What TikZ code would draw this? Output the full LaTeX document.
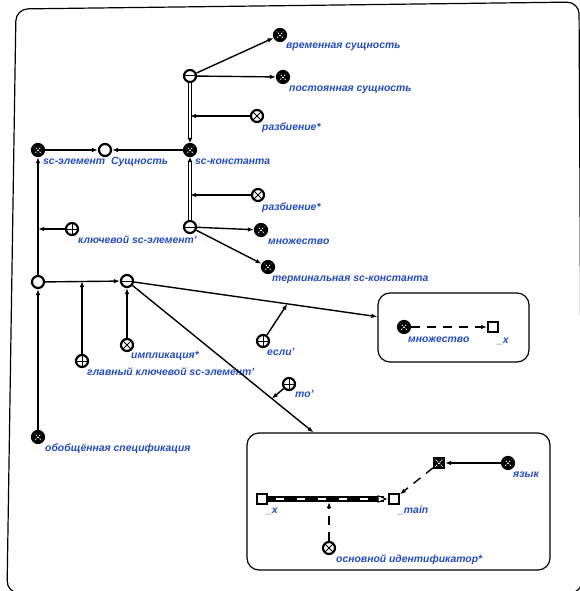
\documentclass[tikz,border=0pt]{standalone}
\usepackage{fontspec}
\setmainfont{Liberation Sans}
\usetikzlibrary{arrows.meta}

\definecolor{lblblue}{RGB}{35,75,190}

\tikzset{
  sc/.style={circle, inner sep=0pt, minimum size=12pt, line width=2.2pt, draw=black, fill=white},
  scclass/.style={sc, fill=black, path picture={
      \draw[white, line width=0.9pt, dash pattern=on 1.3pt off 1.4pt]
        (path picture bounding box.north west) -- (path picture bounding box.south east)
        (path picture bounding box.north east) -- (path picture bounding box.south west);}},
  screl/.style={sc, path picture={
      \draw[line width=1pt]
        (path picture bounding box.north west) -- (path picture bounding box.south east)
        (path picture bounding box.north east) -- (path picture bounding box.south west);}},
  scrole/.style={sc, path picture={
      \draw[line width=1pt]
        (path picture bounding box.north) -- (path picture bounding box.south)
        (path picture bounding box.west) -- (path picture bounding box.east);}},
  sctuple/.style={sc, path picture={
      \draw[line width=1pt]
        (path picture bounding box.west) -- (path picture bounding box.east);}},
  scvar/.style={rectangle, inner sep=0pt, minimum size=10pt, line width=2pt, draw=black, fill=white},
  scvarclass/.style={scvar, fill=black, path picture={
      \draw[white, line width=0.8pt, dash pattern=on 1.2pt off 1.2pt]
        (path picture bounding box.north west) -- (path picture bounding box.south east)
        (path picture bounding box.north east) -- (path picture bounding box.south west);}},
  lbl/.style={anchor=base west, inner sep=0pt, text=lblblue,
    font=\fontsize{10.4}{12}\selectfont\bfseries\itshape},
  arc/.style={-{Latex[length=6pt,width=4.5pt]}, line width=1.4pt},
  vararc/.style={arc, dash pattern=on 9pt off 7pt},
  commarc/.style={-{Latex[length=5pt,width=5pt]}, line width=1pt, double=white, double distance=2.8pt},
  contour/.style={draw, rounded corners=12pt, line width=1.2pt},
}

\begin{document}
\begin{tikzpicture}[x=1pt, y=-1pt]
\useasboundingbox (0,0) rectangle (580,591);

% outer frame
\begin{scope}
\clip (0,0) rectangle (580,591);
\draw[line width=1.2pt, rounded corners=12pt] (7,593) -- (16,9) -- (579,2) -- (582,593) -- cycle;
\end{scope}

% upper part
\node[sctuple] (tuple1) at (190,76) {};
\node[scclass] (temp) at (280,35) {};
\node[lbl] (temp-l) at (286,48.5) {временная сущность};
\node[scclass] (perm) at (283,77) {};
\node[lbl] (perm-l) at (289,92) {постоянная сущность};
\node[screl] (part1) at (257,116) {};
\node[lbl] (part1-l) at (262,131) {разбиение*};
\node[scclass] (scconst) at (190,150) {};
\node[lbl] (scconst-l) at (195,164.5) {sc-константа};
\node[sc] (entity) at (105,150) {};
\node[lbl] (entity-l) at (111,164) {Сущность};
\node[scclass] (scelem) at (38,150) {};
\node[lbl] (scelem-l) at (43,164.5) {sc-элемент};
\node[screl] (part2) at (258,195) {};
\node[lbl] (part2-l) at (262,210) {разбиение*};
\node[sctuple] (tuple2) at (190,227) {};
\node[scclass] (set) at (261,230) {};
\node[lbl] (set-l) at (268,244) {множество};
\node[scclass] (term) at (268,267) {};
\node[lbl] (term-l) at (272,281) {терминальная sc-константа};
\node[scrole] (keyelem) at (72,229) {};
\node[lbl] (keyelem-l) at (78,243) {ключевой sc-элемент'};

% lower part
\node[sc] (gen) at (38,282) {};
\node[sctuple] (tuple3) at (127,281) {};
\node[screl] (impl) at (127,345) {};
\node[lbl] (impl-l) at (131,358) {импликация*};
\node[scrole] (mainkey) at (82,361) {};
\node[lbl] (mainkey-l) at (87,375) {главный ключевой sc-элемент'};
\node[scrole] (if) at (263,341) {};
\node[lbl] (if-l) at (267,355) {если'};
\node[scrole] (then) at (289,384) {};
\node[lbl] (then-l) at (295,397) {то'};
\node[scclass] (genspec) at (38,437) {};
\node[lbl] (genspec-l) at (45,451) {обобщённая спецификация};

% contours
\node[contour, minimum width=151pt, minimum height=69pt] (box1) at (453.5,327.5) {};
\node[contour, minimum width=303pt, minimum height=137pt] (box2) at (398.5,501.5) {};

% inside box1
\node[scclass] (set2) at (404,327) {};
\node[lbl] (set2-l) at (408,342) {множество};
\node[scvar] (x1) at (493,327) {};
\node[lbl] (x1-l) at (497,343) {\_x};

% inside box2
\node[scvar] (x2) at (262,499) {};
\node[lbl] (x2-l) at (266,513) {\_x};
\node[scvar] (main) at (394,499) {};
\node[lbl] (main-l) at (398,513) {\_main};
\node[scvarclass] (mainclass) at (439,463) {};
\node[scclass] (lang) at (508,463) {};
\node[lbl] (lang-l) at (513,477) {язык};
\node[screl] (ident) at (329,548) {};
\node[lbl] (ident-l) at (336,562) {основной идентификатор*};

% points on arcs
\coordinate (p1) at (tuple1 |- part1);
\coordinate (p2) at (tuple2 |- part2);
\coordinate (p3) at (scelem |- keyelem);
\coordinate (p4) at (mainkey |- tuple3);
\path (tuple3) -- (box1) coordinate[pos=0.63] (p5);
\path (tuple3) -- (box2) coordinate[pos=0.77] (p6);
\coordinate (p7) at (ident |- x2);

% arcs
\draw[arc] (tuple1) -- (temp);
\draw[arc] (tuple1) -- (perm);
\draw[commarc] (tuple1) -- (scconst);
\draw[arc] (part1) -- (p1);
\draw[commarc] (tuple2) -- (scconst);
\draw[arc] (part2) -- (p2);
\draw[arc] (tuple2) -- (set);
\draw[arc] (tuple2) -- (term);
\draw[arc] (scconst) -- (entity);
\draw[arc] (scelem) -- (entity);
\draw[arc] (gen) -- (scelem);
\draw[arc] (keyelem) -- (p3);
\draw[arc] (gen) -- (tuple3);
\draw[arc] (mainkey) -- (p4);
\draw[arc] (impl) -- (tuple3);
\draw[arc] (genspec) -- (gen);
\draw[arc] (tuple3) -- (box1);
\draw[arc] (if) -- (p5);
\draw[arc] (tuple3) -- (box2);
\draw[arc] (then) -- (p6);

\draw[vararc] (set2) -- (x1);

\draw[line width=6.5pt, shorten >=4pt] (x2) -- (main);
\draw[white, line width=2.8pt, dash pattern=on 8pt off 13pt, shorten <=8pt, shorten >=6pt] (x2) -- (main);
\draw[fill=white, line width=1pt] ([xshift=-2pt]main.west) -- ++(-8,-3.2) -- ++(0,6.4) -- cycle;
\draw[vararc, shorten >=3pt] (ident) -- (p7);
\draw[vararc] (mainclass) -- (main);
\draw[arc] (lang) -- (mainclass);

\end{tikzpicture}
\end{document}
